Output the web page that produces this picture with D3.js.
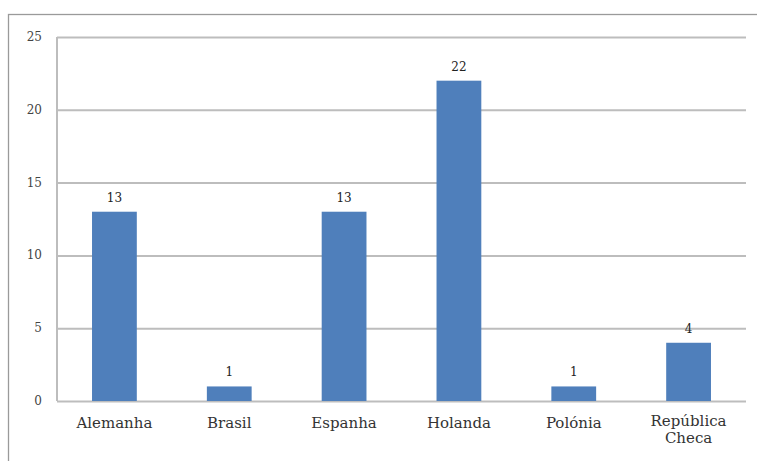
<!DOCTYPE html>
<html>
<head>
<meta charset="utf-8">
<script src="https://cdn.jsdelivr.net/npm/d3@7"></script>
<style>
  body { margin: 0; background: #fff; }
  svg { display: block; }
</style>
</head>
<body>
<div id="chart"></div>
<script>
// data
const countries = ["Alemanha", "Brasil", "Espanha", "Holanda", "Polónia", "República Checa"];
const counts = [13, 1, 13, 22, 1, 4];
const yTicks = [0, 5, 10, 15, 20, 25];

const width = 757, height = 461;
const margins = { top: 37, right: 11, bottom: 60, left: 57 };

const svg = d3.select("#chart").append("svg")
    .attr("width", width)
    .attr("height", height);

// outer frame (cut off at right and bottom)
svg.append("rect")
    .attr("x", 8.5).attr("y", 14.5)
    .attr("width", width + 10).attr("height", height + 10)
    .attr("fill", "none")
    .attr("stroke", "#9a9a9a")
    .attr("stroke-width", 1.3);

const xScale = d3.scaleBand()
    .domain(countries)
    .range([margins.left, width - margins.right])
    .paddingInner(0.61)
    .paddingOuter(0.305);

const yScale = d3.scaleLinear()
    .domain([0, 25])
    .range([height - margins.bottom, margins.top]);

const font = "Georgia, 'DejaVu Serif', 'Liberation Serif', serif";

// grid
svg.append("g")
    .attr("transform", `translate(${margins.left},0)`)
    .call(d3.axisLeft(yScale)
        .tickValues(yTicks)
        .tickSize(-(width - margins.left - margins.right))
        .tickFormat(""))
    .call(g => g.select(".domain").remove())
    .selectAll("line")
    .attr("stroke", "#bdbdbd")
    .attr("stroke-width", 2);

// y axis line
svg.append("line")
    .attr("x1", margins.left).attr("x2", margins.left)
    .attr("y1", yScale(25)).attr("y2", yScale(0))
    .attr("stroke", "#bdbdbd")
    .attr("stroke-width", 2);

// y tick labels
svg.append("g")
    .selectAll("text")
    .data(yTicks)
    .join("text")
    .attr("x", margins.left - 15)
    .attr("y", d => yScale(d) + 4)
    .attr("text-anchor", "end")
    .attr("font-family", font)
    .attr("font-size", "12px")
    .attr("fill", "#444")
    .text(d => d);

// bars
svg.append("g")
    .selectAll("rect")
    .data(countries)
    .join("rect")
    .attr("x", d => xScale(d))
    .attr("y", (d, i) => yScale(counts[i]))
    .attr("width", xScale.bandwidth())
    .attr("height", (d, i) => yScale(0) - yScale(counts[i]))
    .attr("fill", "#4f7fbb");

// value labels
svg.append("g")
    .selectAll("text")
    .data(countries)
    .join("text")
    .attr("x", d => xScale(d) + xScale.bandwidth() / 2)
    .attr("y", (d, i) => yScale(counts[i]) - 10)
    .attr("text-anchor", "middle")
    .attr("font-family", font)
    .attr("font-size", "12px")
    .attr("fill", "#222")
    .text((d, i) => counts[i]);

// category labels
const catLabels = svg.append("g")
    .selectAll("text")
    .data(countries)
    .join("text")
    .attr("x", d => xScale(d) + xScale.bandwidth() / 2)
    .attr("y", d => d.includes(" ") ? yScale(0) + 25 : yScale(0) + 27)
    .attr("text-anchor", "middle")
    .attr("font-family", font)
    .attr("font-size", "15px")
    .attr("fill", "#333");

catLabels.each(function(d) {
    const words = d.split(" ");
    const t = d3.select(this);
    words.forEach((w, j) => {
        t.append("tspan")
            .attr("x", xScale(d) + xScale.bandwidth() / 2)
            .attr("dy", j === 0 ? 0 : 17)
            .text(w);
    });
});
</script>
</body>
</html>
